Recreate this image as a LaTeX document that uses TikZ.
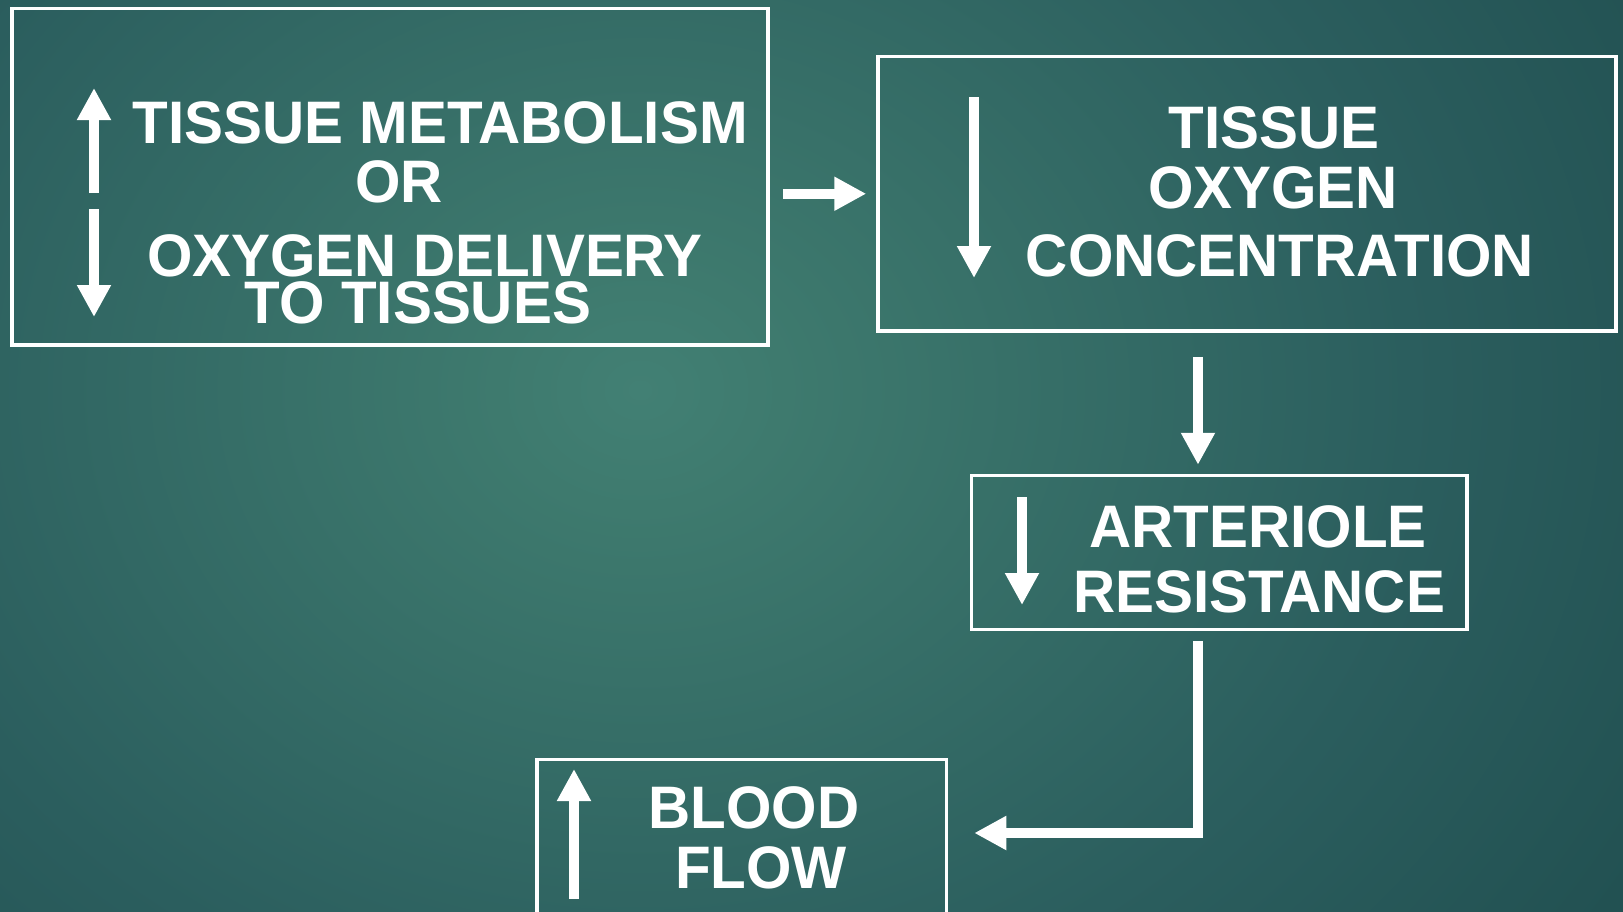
\documentclass[tikz,border=0pt]{standalone}
\usepackage{fontspec}
\newfontfamily\labfont{Liberation Sans Bold}[FakeStretch=0.973]
\usetikzlibrary{arrows.meta}

% teal backdrop: bright glow fading to a dark blue-green rim
\definecolor{glow0}{RGB}{66,128,116}
\definecolor{glow1}{RGB}{62,122,110}
\definecolor{glow2}{RGB}{43,94,94}
\definecolor{glow3}{RGB}{34,81,82}
\definecolor{glow4}{RGB}{27,70,80}
\definecolor{glow5}{RGB}{22,60,74}
\definecolor{glow6}{RGB}{20,56,72}
\pgfdeclareradialshading{tealglow}{\pgfpoint{0bp}{0bp}}{%
  color(0bp)=(glow0); color(3bp)=(glow1); color(16bp)=(glow2);
  color(24bp)=(glow3); color(32bp)=(glow4); color(40bp)=(glow5);
  color(50bp)=(glow6)}

\tikzset{
  box/.style={draw=white, line width=3.5pt, rectangle, inner sep=0pt},
  lab/.style={text=white, font=\labfont\fontsize{60}{60}\selectfont,
              inner sep=0pt, anchor=base},
  flow/.style={draw=white, line width=10.5pt, line join=miter,
               -{Triangle[length=32pt,width=32pt]}},
}

\begin{document}
\begin{tikzpicture}[x=1pt, y=-1pt]
  \useasboundingbox (0,0) rectangle (1623,911);
  \clip (0,0) rectangle (1623,911);

  % background
  \shade[shading=tealglow] (640,390) ellipse [x radius=1200, y radius=1000];

  % boxes
  \node[box, minimum width=756pt, minimum height=336.5pt] (b1) at (390,176.75) {};
  \node[box, minimum width=738pt, minimum height=274.5pt] (b2) at (1247,193.75) {};
  \node[box, minimum width=495.5pt, minimum height=154pt] (b3) at (1219.25,552.5) {};
  \node[box, minimum width=409.5pt, minimum height=200.5pt] (b4) at (741.75,859.75) {};

  % box texts
  \node[lab] (t1a) at (440,143) {TISSUE METABOLISM};
  \node[lab] (t1b) at (399,202) {OR};
  \node[lab] (t1c) at (425,276) {OXYGEN DELIVERY};
  \node[lab] (t1d) at (418,323) {TO TISSUES};

  \node[lab] (t2a) at (1274,148) {TISSUE};
  \node[lab] (t2b) at (1273,208) {OXYGEN};
  \node[lab] (t2c) at (1280,276) {CONCENTRATION};

  \node[lab] (t3a) at (1258,547) {ARTERIOLE};
  \node[lab] (t3b) at (1259,612) {RESISTANCE};

  \node[lab] (t4a) at (754,828) {BLOOD};
  \node[lab] (t4b) at (761,888) {FLOW};

  % up/down markers inside the boxes
  \draw[flow] (94,193) -- (94,88);
  \draw[flow] (94,209) -- (94,317);
  \draw[flow] (974,97) -- (974,278);
  \draw[flow] (1022,497) -- (1022,605);
  \draw[flow] (574,899) -- (574,769);

  % connectors between the boxes
  \coordinate (ax) at (1198,0);
  \coordinate (bend) at (1198,833);
  \draw[flow, shorten <=13pt, shorten >=10pt] (b1.east |- b2.west) -- (b2.west);
  \draw[flow, shorten <=24pt, shorten >=9pt] (b2.south -| ax) -- (b3.north -| ax);
  \draw[flow, shorten <=10pt, shorten >=26pt] (b3.south -| ax) |- (b4.east |- bend);
\end{tikzpicture}
\end{document}
